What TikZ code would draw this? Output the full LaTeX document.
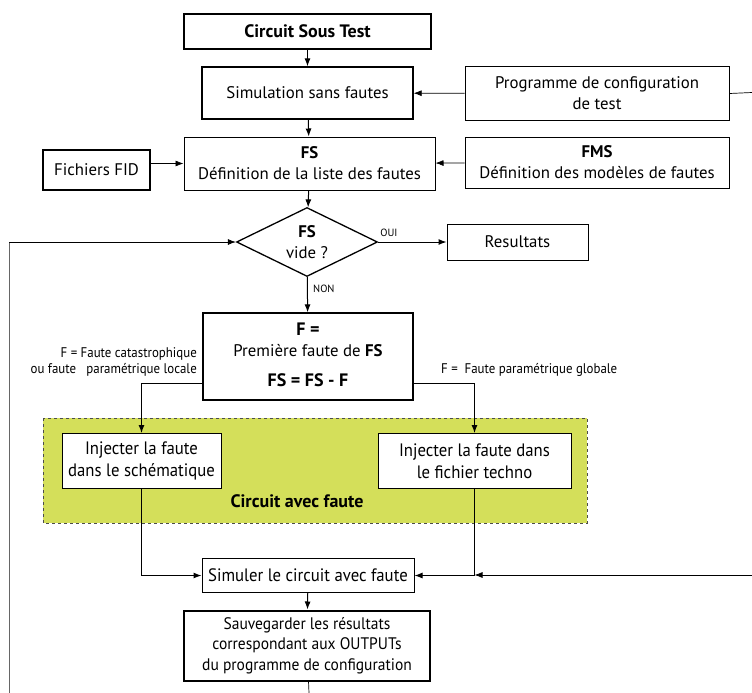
\documentclass[tikz,border=0pt]{standalone}
\usepackage{fontspec}
\setmainfont{PT Sans}
\newfontfamily\narrowfont[FakeStretch=0.93]{PT Sans}
\newfontfamily\labelfont[FakeStretch=0.92]{PT Sans}
\usetikzlibrary{shapes.geometric,arrows.meta}
\definecolor{faultgreen}{RGB}{212,223,90}

\begin{document}
\begin{tikzpicture}[x=1pt,y=-1pt,
    >={Latex[length=8pt,width=6pt]},
    box/.style={draw,line width=1pt,inner sep=2pt,align=center,
        font=\fontsize{16.8}{21}\selectfont},
    thickbox/.style={box,line width=2pt},
    narrowbox/.style={box,font=\narrowfont\fontsize{18}{22}\selectfont},
    gras/.style={font=\bfseries\fontsize{18}{21}\selectfont},
    lien/.style={line width=1pt},
    fin/.style={line width=0.7pt},
    small/.style={inner sep=0pt,font=\labelfont\fontsize{14}{16}\selectfont},
    tiny/.style={inner sep=0pt,font=\fontsize{10.5}{12}\selectfont}]
\useasboundingbox (0,0) rectangle (752,693);
% zone circuit avec faute
\draw[fill=faultgreen,draw=black!70,dashed,line width=0.8pt]
    (43,418) rectangle (587,523);
\node[gras] (zone) at (297,501) {Circuit avec faute};
% boites
\node[thickbox,minimum width=247pt,minimum height=35pt] (cst) at (307.5,31.5) {\textbf{\fontsize{18}{21}\selectfont Circuit Sous Test}};
\node[box,line width=1.3pt,minimum width=211pt,minimum height=52pt] (sim) at (307.5,93) {Simulation sans fautes};
\node[box,minimum width=264pt,minimum height=53pt] (prog) at (597,93.5) {Programme de configuration\\de test};
\node[box,minimum width=264pt,minimum height=51pt] (fms) at (597,162.5) {\textbf{FMS}\\D\'efinition des mod\`eles de fautes};
\node[box,minimum width=251pt,minimum height=53pt] (fs) at (309.5,163.5) {\textbf{FS}\\D\'efinition de la liste des fautes};
\node[box,line width=1.3pt,minimum width=107pt,minimum height=40pt] (fid) at (96.5,170) {Fichiers FID};
\node[box,diamond,aspect=2,inner sep=0pt,line width=1.3pt,
    minimum width=141pt,minimum height=69pt] (vide) at (307,242) {\textbf{FS}\\vide ?};
\node[box,minimum width=141pt,minimum height=36pt] (res) at (517.5,242) {Resultats};
\node[box,line width=1.3pt,minimum width=210pt,minimum height=87pt] (prem) at (308,356.5) {};
\node[gras] (f1) at (308,329) {F =};
\node[font=\fontsize{16.8}{21}\selectfont] (f2) at (308,351) {Premi\`ere faute de \textbf{FS}};
\node[gras] (f3) at (308,380) {FS = FS - F};
\node[narrowbox,fill=white,minimum width=159pt,minimum height=55pt] (inj1) at (141.5,461) {Injecter la faute\\dans le sch\'ematique};
\node[narrowbox,fill=white,minimum width=193pt,minimum height=55pt] (inj2) at (474.5,461) {Injecter la faute dans\\le fichier techno};
\node[narrowbox,minimum width=212pt,minimum height=34pt] (simf) at (308,575.5) {Simuler le circuit avec faute};
\node[narrowbox,line width=2pt,minimum width=246pt,minimum height=70pt,
    font=\narrowfont\fontsize{16.7}{20.5}\selectfont] (sauv) at (307,645.5) {Sauvegarder les r\'esultats\\correspondant aux OUTPUTs\\du programme de configuration};
% etiquettes
\node[small,anchor=east,align=right] (cat) at (197,362) {F = Faute catastrophique\\ou faute \ \ param\'etrique locale};
\node[small,anchor=west] (glob) at (441,370) {F = \ Faute param\'etrique globale};
\node[tiny] (oui) at (389,233) {OUI};
\node[tiny,anchor=west] (non) at (313,289) {NON};
% bords
\coordinate (pd) at (752,92.5);
\coordinate (sd) at (752,575);
\coordinate (bas) at (309,693);
\coordinate (bg) at (9,693);
\coordinate (hg) at (9,242);
\coordinate (jr) at (474.5,575);
% liaisons
\draw[lien,->] (cst) -- (sim);
\draw[fin,->] (prog) -- (sim);
\draw[fin] (prog.east) -- (pd);
\draw[lien,->] (sim) -- (fs);
\draw[fin,->] (fms) -- (fs);
\draw[fin,->] (fid.east |- fs.west) -- (fs.west);
\draw[lien,->] (fs) -- (vide);
\draw[lien,->] (vide) -- (res);
\draw[lien,->] (vide) -- (prem);
\draw[lien,->] (prem.west |- 0,383) -| (inj1.north);
\draw[lien,->] (prem.east |- 0,383) -| (inj2.north);
\draw[lien,->] (inj1.south) |- (simf.west);
\draw[lien,->] (inj2.south) |- (simf.east);
\draw[fin,->] (sd) -- (jr);
\draw[lien,->] (simf) -- (sauv);
\draw[fin] (sauv) -- (bas);
\draw[fin,black!60] (bg) -- (hg);
\draw[fin,->] (hg) -- (vide.west);
\end{tikzpicture}
\end{document}
